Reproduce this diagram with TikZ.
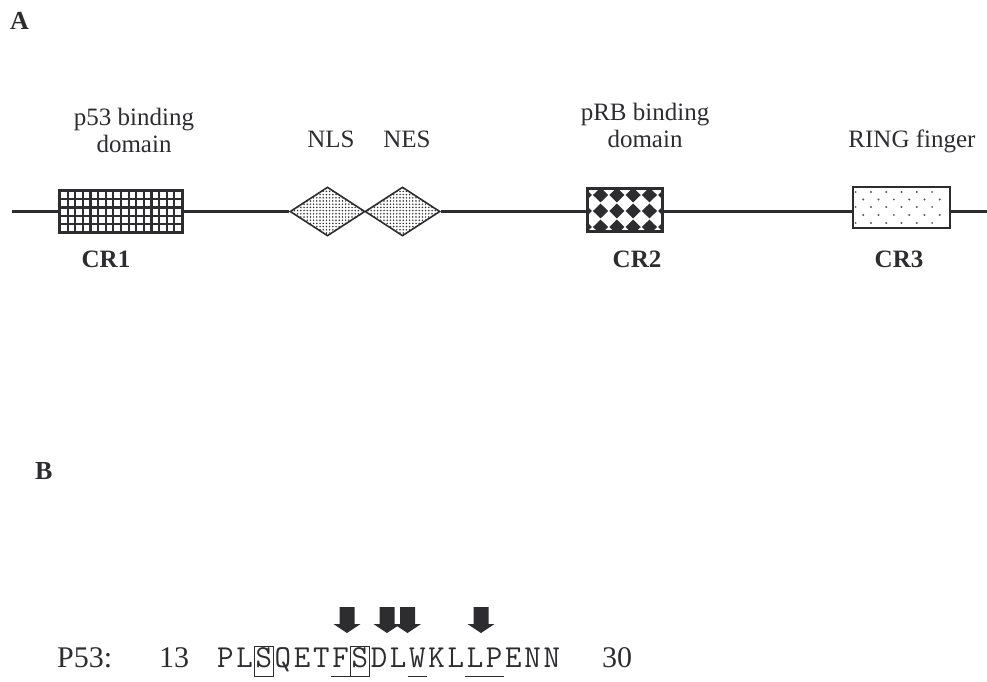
\documentclass[tikz,border=0pt]{standalone}
\usepackage{fontspec}
\setmainfont{Liberation Serif}
\usetikzlibrary{shapes.geometric,patterns.meta,calc}
\definecolor{ink}{RGB}{45,45,48}
\newcommand\rescell[1]{\makebox[19.2pt][c]{#1}}
\tikzset{
  lab/.style={font=\fontsize{25}{27}\selectfont, text=ink, inner sep=0},
  crlab/.style={font=\fontsize{25}{27}\selectfont\bfseries, text=ink, inner sep=0, anchor=base},
  panel/.style={font=\fontsize{26}{28}\selectfont\bfseries, text=ink, inner sep=0, anchor=base west},
  seqtext/.style={font=\fontsize{30}{32}\selectfont, text=ink, inner sep=0, anchor=base west},
  conn/.style={draw=ink, line width=2.3pt},
  dom/.style={draw=ink, line width=2pt, fill=white, inner sep=0, rectangle},
  motif/.style={diamond, draw=ink, line width=1.6pt, inner sep=0,
    minimum width=75pt, minimum height=49pt, fill=white,
    postaction={pattern={Dots[distance=3.2pt, radius=0.85pt]}, pattern color=ink}},
  blockarrow/.pic={\fill[ink] (-7.5,0) -- (7.5,0) -- (7.5,17) -- (13.5,17)
     -- (0,26) -- (-13.5,17) -- (-7.5,17) -- cycle;},
  mark box/.style={draw=ink, line width=1pt},
}
\begin{document}
\begin{tikzpicture}[x=1pt,y=-1pt]
\useasboundingbox (0,0) rectangle (987,681);

% panel letters
\node[panel] (pa) at (10,29) {A};
\node[panel] (pb) at (35,479) {B};

% domains
\node[dom, minimum width=122pt, minimum height=41pt] (cr1) at (121,211.5) {};
\foreach \i in {1,...,15}
  \draw[ink, line width=2.2pt] ({60+\i*7.625},191) -- ({60+\i*7.625},232);
\foreach \j in {1,...,4}
  \draw[ink, line width=2.2pt] (60,{191+\j*8.2}) -- (182,{191+\j*8.2});
\draw[ink, line width=2pt] (cr1.south west) rectangle (cr1.north east);

\node[motif] (nls) at (327.5,211.5) {};
\node[motif] (nes) at (402.5,211.5) {};

\node[dom, minimum width=74pt, minimum height=42pt,
  path picture={
    \foreach \dx in {-40.75,-24.45,-8.15,8.15,24.45,40.75}
      \foreach \dy in {-15,1,17}
        \fill[ink] ($(path picture bounding box.center)+(\dx-7.6,\dy)$)
          -- ++(7.6,-7.4) -- ++(7.6,7.4) -- ++(-7.6,7.4) -- cycle;
  }] (cr2) at (625,210) {};
\draw[ink, line width=2pt] (cr2.south west) rectangle (cr2.north east);

\node[dom, minimum width=97pt, minimum height=41pt,
  path picture={
    \foreach \dy in {-15.5,-0.5,15.5}
      \foreach \dx in {-45.9,-30.6,-15.3,0,15.3,30.6}
        \fill[ink!80] ($(path picture bounding box.center)+(\dx,\dy)$) circle (1.1);
    \foreach \dy in {-8,7.5}
      \foreach \dx in {-38.25,-22.95,-7.65,7.65,22.95,38.25}
        \fill[ink!80] ($(path picture bounding box.center)+(\dx,\dy)$) circle (1.1);
  }] (cr3) at (901.5,207.5) {};

% backbone
\coordinate (lstart) at (12,211.5);
\coordinate (lend) at (987,211.5);
\draw[conn] (lstart) -- (cr1.west);
\draw[conn] (cr1.east) -- (nls.west);
\draw[conn] (nes.east) -- (nes.east -| cr2.west);
\draw[conn] (nes.east -| cr2.east) -- (nes.east -| cr3.west);
\draw[conn] (nes.east -| cr3.east) -- (lend);

% labels
\node[lab, anchor=north, align=center] (l53) at (134,108) {p53 binding\\domain};
\node[lab, anchor=base] (lnls) at (331,147) {NLS};
\node[lab, anchor=base] (lnes) at (407,147) {NES};
\node[lab, anchor=north, align=center] (lrb) at (645,103) {pRB binding\\domain};
\node[lab, anchor=base] (lring) at (912,147) {RING finger};

\node[crlab] (c1) at (106,267) {CR1};
\node[crlab] (c2) at (637,267) {CR2};
\node[crlab] (c3) at (899,267) {CR3};

% panel B sequence
\node[seqtext] (p53) at (57,667) {P53:};
\node[seqtext] (n13) at (159,667) {13};
\node[seqtext, font=\fontsize{32}{34}\selectfont\ttfamily] (seq) at (215.6,667)
  {\rescell{P}\rescell{L}\rescell{S}\rescell{Q}\rescell{E}\rescell{T}\rescell{F}\rescell{S}\rescell{D}\rescell{L}\rescell{W}\rescell{K}\rescell{L}\rescell{L}\rescell{P}\rescell{E}\rescell{N}\rescell{N}};
\node[seqtext] (n30) at (602,667) {30};

\draw[mark box] (254.0,646) rectangle (273.2,676);
\draw[mark box] (350.0,646) rectangle (369.2,676);
\draw[mark box] (330.8,676) -- (350.0,676);
\draw[mark box] (407.6,676) -- (426.8,676);
\draw[mark box] (465.2,676) -- (503.6,676);

\pic at (347,607) {blockarrow};
\pic at (387,607) {blockarrow};
\pic at (407.5,607) {blockarrow};
\pic at (481,607) {blockarrow};
\end{tikzpicture}
\end{document}
